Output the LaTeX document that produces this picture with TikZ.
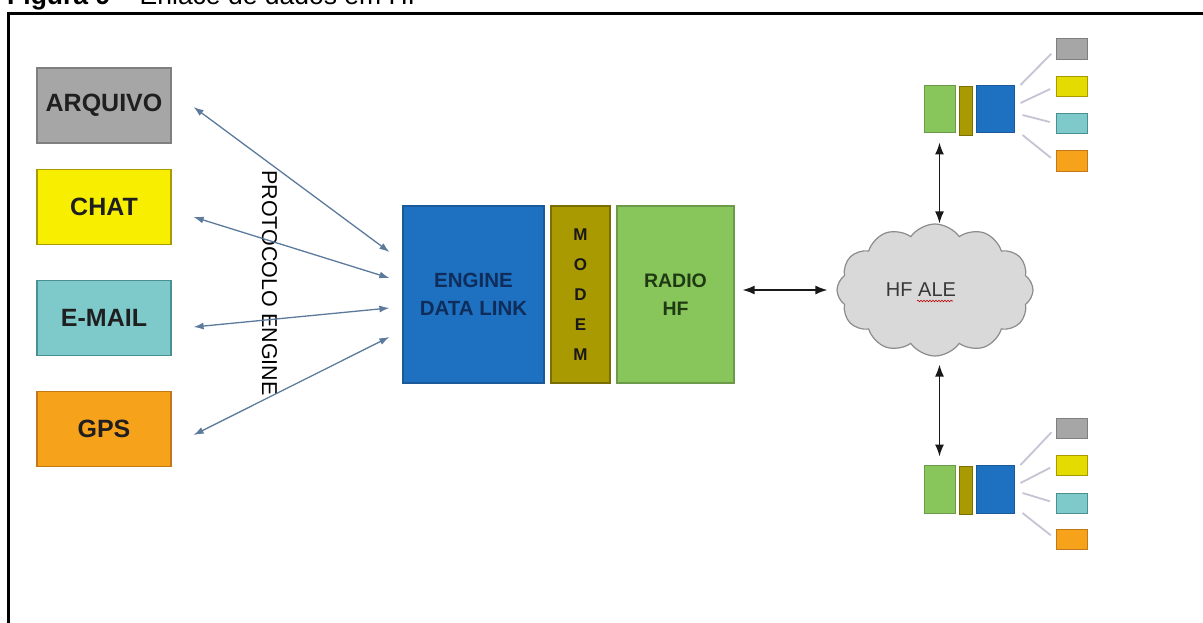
\documentclass[tikz,border=0pt]{standalone}
\usepackage{fontspec}
\setmainfont{Liberation Sans}
\usetikzlibrary{arrows.meta,shapes.symbols,decorations.pathmorphing,calc}
\definecolor{cGray}{HTML}{A6A6A6}\definecolor{cGrayD}{HTML}{7F7F7F}
\definecolor{cYel}{HTML}{F8EF00}\definecolor{cYelD}{HTML}{A89A00}
\definecolor{cTeal}{HTML}{7ECACB}\definecolor{cTealD}{HTML}{4A9090}
\definecolor{cOra}{HTML}{F7A21B}\definecolor{cOraD}{HTML}{C07818}
\definecolor{cBlue}{HTML}{1E70C0}\definecolor{cBlueD}{HTML}{1A5A9A}
\definecolor{cOli}{HTML}{AA9A02}\definecolor{cOliD}{HTML}{7A6E00}
\definecolor{cGrn}{HTML}{88C65C}\definecolor{cGrnD}{HTML}{6A9A4A}
\definecolor{cCloud}{HTML}{D9D9D9}\definecolor{cCloudD}{HTML}{8C8C8C}
\definecolor{cArr}{HTML}{5B7A9C}\definecolor{cLnk}{HTML}{C4C4D4}
\definecolor{cNavy}{HTML}{0F2D5A}\definecolor{cDkGrn}{HTML}{1F3A12}
\begin{document}
\begin{tikzpicture}[x=1pt,y=-1pt,
  box/.style={draw,line width=1.2pt,inner sep=0pt,align=center},
  appbox/.style={box,minimum width=134,minimum height=75,text=black!88,
    font=\fontsize{25}{30}\selectfont\bfseries},
  bigbox/.style={box,minimum height=177},
  minibox/.style={draw,line width=1pt,inner sep=0pt},
  biarr/.style={draw=cArr,line width=1.3pt,{Latex[length=10pt,width=7pt]}-{Latex[length=10pt,width=7pt]}},
  blkarr/.style={draw=black!90,line width=1.4pt,{Latex[length=12pt,width=9pt]}-{Latex[length=12pt,width=9pt]}},
  lnk/.style={draw=cLnk,line width=1.8pt}]
\useasboundingbox (0,0) rectangle (1203,623);
\clip (0,0) rectangle (1203,623);
\fill[white] (0,0) rectangle (1203,623);
% title and frame
\node[anchor=base west,inner sep=0pt,font=\fontsize{26.5}{30}\selectfont] (title) at (7,5)
  {\textbf{Figura 9} -- Enlace de dados em HF};
\draw[line width=3.5pt] (8.5,700) -- (8.5,13.5) -- (1300,13.5);
% application boxes
\node[appbox,fill=cGray,draw=cGrayD] (arq) at (104,105.5) {ARQUIVO};
\node[appbox,fill=cYel,draw=cYelD] (chat) at (104,207) {CHAT};
\node[appbox,fill=cTeal,draw=cTealD] (mail) at (104,318) {E-MAIL};
\node[appbox,fill=cOra,draw=cOraD] (gps) at (104,429) {GPS};
% central blocks
\node[bigbox,fill=cBlue,draw=cBlueD,minimum width=141,text=cNavy,
  font=\fontsize{20.5}{28}\selectfont\bfseries] (eng) at (473.5,294.5) {ENGINE\\DATA LINK};
\node[bigbox,fill=cOli,draw=cOliD,minimum width=59,text=black!90,
  font=\fontsize{17}{30}\selectfont\bfseries] (modem) at (580.5,294.5) {M\\O\\D\\E\\M};
\node[bigbox,fill=cGrn,draw=cGrnD,minimum width=117,text=cDkGrn,
  font=\fontsize{19.5}{28}\selectfont\bfseries] (radio) at (675.5,294.5) {RADIO\\HF};
% protocol label
\node[rotate=-90,inner sep=0pt,font=\fontsize{21.5}{24}\selectfont] (proto) at (269.5,283) {PROTOCOLO ENGINE};
% arrow end points
\coordinate (a1) at ($(arq.east)+(22,1.5)$);
\coordinate (a2) at ($(chat.east)+(22,10)$);
\coordinate (a3) at ($(mail.east)+(22,9)$);
\coordinate (a4) at ($(gps.east)+(22,6)$);
\coordinate (e1) at ($(eng.west)+(-13,-42.5)$);
\coordinate (e2) at ($(eng.west)+(-13,-16.5)$);
\coordinate (e3) at ($(eng.west)+(-13,13.5)$);
\coordinate (e4) at ($(eng.west)+(-13,42.5)$);
\draw[biarr] (a1) -- (e1);
\draw[biarr] (a2) -- (e2);
\draw[biarr] (a3) -- (e3);
\draw[biarr] (a4) -- (e4);
% cloud
\node[cloud,cloud puffs=12,cloud puff arc=110,aspect=1.48,draw=cCloudD,fill=cCloud,line width=1.2pt,
  minimum width=196,minimum height=132,inner sep=0pt] (cloud) at (935,290) {};
\node[inner sep=0pt,text=black!78,font=\fontsize{20}{24}\selectfont] (hf) at (921,290) {HF ALE};
\draw[red!75!black,line width=0.6pt,decorate,decoration={snake,amplitude=0.8pt,segment length=3pt}]
  ($(hf.center)+(-4,11)$) -- ($(hf.center)+(32,11)$);
\draw[blkarr,shorten <=8pt,shorten >=9pt] (radio.east |- cloud.west) -- (cloud.west);
% top station
\node[minibox,fill=cGrn,draw=cGrnD,minimum width=31,minimum height=47] (tg) at (939.5,109.5) {};
\node[minibox,fill=cOli,draw=cOliD,minimum width=13,minimum height=49] (to) at (965.5,111.5) {};
\node[minibox,fill=cBlue,draw=cBlueD,minimum width=38,minimum height=47] (tb) at (995,109.5) {};
\node[minibox,fill=cGray,draw=cGrayD,minimum width=31,minimum height=21] (t1) at (1071.5,49.5) {};
\node[minibox,fill=cYel!92!black,draw=cYelD,minimum width=31,minimum height=20] (t2) at (1071.5,86.5) {};
\node[minibox,fill=cTeal,draw=cTealD,minimum width=31,minimum height=20] (t3) at (1071.5,123.5) {};
\node[minibox,fill=cOra,draw=cOraD,minimum width=31,minimum height=21] (t4) at (1071.5,161.5) {};
\draw[lnk,shorten >=6pt] ($(tb.east)+(6,-24.5)$) -- (t1.west);
\draw[lnk,shorten >=6pt] ($(tb.east)+(6,-6.5)$) -- (t2.west);
\draw[lnk,shorten >=6pt] ($(tb.east)+(8,5.5)$) -- (t3.west);
\draw[lnk,shorten >=6pt] ($(tb.east)+(8,25.5)$) -- (t4.west);
\draw[blkarr,shorten <=9pt] (tg.south) -- (tg.south |- cloud.north);
% bottom station
\node[minibox,fill=cGrn,draw=cGrnD,minimum width=31,minimum height=48] (bg) at (939.5,489) {};
\node[minibox,fill=cOli,draw=cOliD,minimum width=13,minimum height=48] (bo) at (965.5,490) {};
\node[minibox,fill=cBlue,draw=cBlueD,minimum width=38,minimum height=48] (bb) at (995,489) {};
\node[minibox,fill=cGray,draw=cGrayD,minimum width=31,minimum height=20] (b1) at (1071.5,428) {};
\node[minibox,fill=cYel!92!black,draw=cYelD,minimum width=31,minimum height=20] (b2) at (1071.5,465) {};
\node[minibox,fill=cTeal,draw=cTealD,minimum width=31,minimum height=20] (b3) at (1071.5,503) {};
\node[minibox,fill=cOra,draw=cOraD,minimum width=31,minimum height=20] (b4) at (1071.5,539) {};
\draw[lnk,shorten >=6pt] ($(bb.east)+(6,-24)$) -- (b1.west);
\draw[lnk,shorten >=6pt] ($(bb.east)+(6,-6)$) -- (b2.west);
\draw[lnk,shorten >=6pt] ($(bb.east)+(8,4)$) -- (b3.west);
\draw[lnk,shorten >=6pt] ($(bb.east)+(8,24)$) -- (b4.west);
\draw[blkarr,shorten <=8pt,shorten >=8pt] (bg.north |- cloud.south) -- (bg.north);
\end{tikzpicture}
\end{document}
